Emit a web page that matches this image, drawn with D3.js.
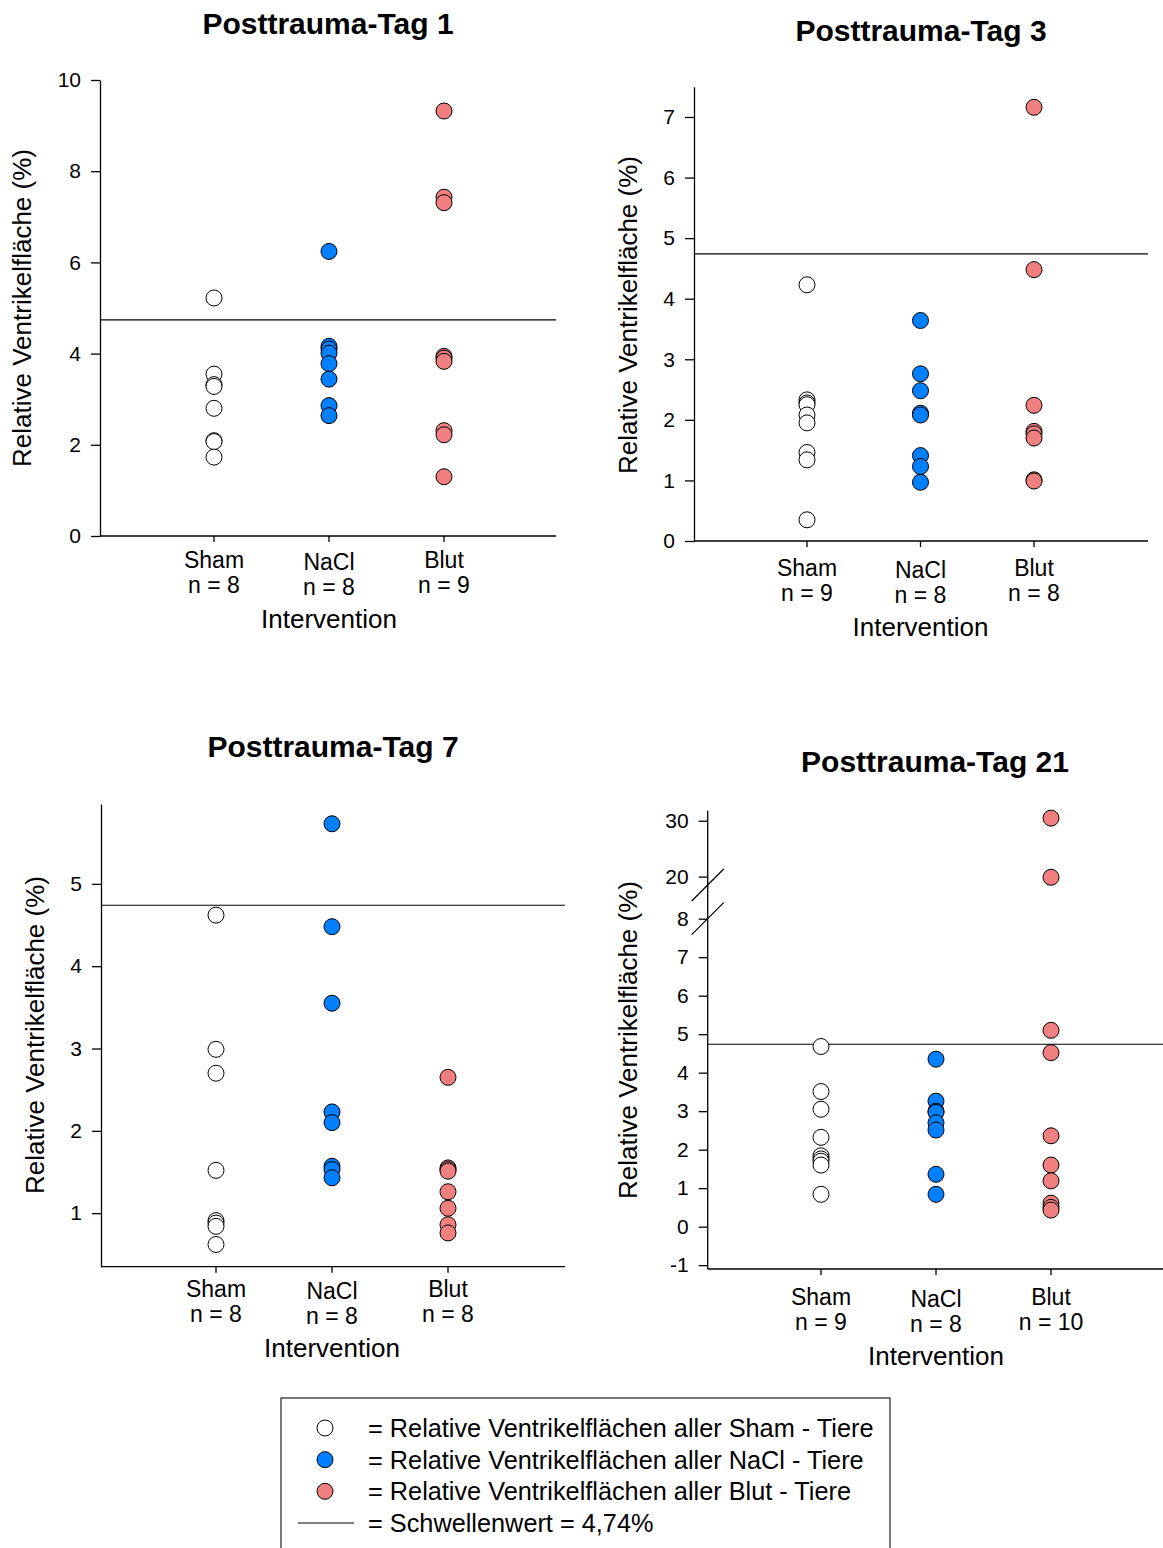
<!DOCTYPE html>
<html>
<head>
<meta charset="utf-8">
<script src="https://cdn.jsdelivr.net/npm/d3@7"></script>
<style>
  body { margin: 0; background: #fff; }
  svg { display: block; font-family: "Liberation Sans", Arial, sans-serif; }
  .tick text { font-size: 21px; fill: #000; }
  .tick line, .domain { stroke: #000; stroke-width: 1.3px; }
</style>
</head>
<body>
<div id="container"></div>
<script>
// values (relative ventricle area in %)
const groups = ["Sham", "NaCl", "Blut"];
const titles = ["Posttrauma-Tag 1", "Posttrauma-Tag 3", "Posttrauma-Tag 7", "Posttrauma-Tag 21"];
const nCounts = [[8, 8, 9], [9, 8, 8], [8, 8, 8], [9, 8, 10]];
const threshold = 4.74;

const day1Sham = [5.22, 3.55, 3.32, 3.28, 2.80, 2.09, 2.07, 1.73];
const day1NaCl = [6.24, 4.16, 4.10, 4.01, 3.78, 3.44, 2.86, 2.64];
const day1Blut = [9.32, 7.43, 7.31, 3.94, 3.90, 3.83, 2.31, 2.22, 1.30];

const day3Sham = [4.23, 2.33, 2.28, 2.25, 2.08, 1.95, 1.46, 1.34, 0.35];
const day3NaCl = [3.64, 2.76, 2.48, 2.11, 2.08, 1.41, 1.23, 0.97];
const day3Blut = [7.16, 4.48, 2.24, 1.81, 1.77, 1.70, 1.01, 0.99];

const day7Sham = [4.62, 2.99, 2.70, 1.52, 0.91, 0.88, 0.84, 0.62];
const day7NaCl = [5.73, 4.48, 3.55, 2.23, 2.10, 1.57, 1.53, 1.43];
const day7Blut = [2.65, 1.55, 1.53, 1.51, 1.26, 1.06, 0.86, 0.76];

const day21Sham = [4.68, 3.51, 3.05, 2.32, 1.84, 1.76, 1.70, 1.60, 0.84];
const day21NaCl = [4.35, 3.26, 3.00, 2.97, 2.70, 2.51, 1.36, 0.84];
const day21Blut = [30.47, 19.88, 5.10, 4.52, 2.36, 1.60, 1.19, 0.61, 0.50, 0.43];

const yTicks1 = [0, 2, 4, 6, 8, 10];
const yTicks3 = [0, 1, 2, 3, 4, 5, 6, 7];
const yTicks7 = [1, 2, 3, 4, 5];
const yTicks21Low = [-1, 0, 1, 2, 3, 4, 5, 6, 7, 8];
const yTicks21High = [20, 30];

const legendTexts = [
  "= Relative Ventrikelflächen aller Sham - Tiere",
  "= Relative Ventrikelflächen aller NaCl - Tiere",
  "= Relative Ventrikelflächen aller Blut - Tiere",
  "= Schwellenwert = 4,74%"
];

const colors = { Sham: "#ffffff", NaCl: "#0080ff", Blut: "#f08080" };

// panel layout
const panels = [
  { data: [day1Sham, day1NaCl, day1Blut], ax: 100, right: 556, cats: [214, 444],
    domain: [0, 10], range: [536, 80], ticks: yTicks1,
    title: [328, 23], ylab: [22, 308], lab: [24, 49, 83] },
  { data: [day3Sham, day3NaCl, day3Blut], ax: 694, right: 1148, cats: [807, 1034],
    domain: [0, 7.5], range: [541, 86.7], ticks: yTicks3,
    title: [921, 30], ylab: [628, 315], lab: [27, 52, 86] },
  { data: [day7Sham, day7NaCl, day7Blut], ax: 101, right: 565, cats: [216, 448],
    domain: [0.35, 5.97], range: [1266.7, 804], ticks: yTicks7,
    title: [333, 746], ylab: [35, 1035], lab: [22, 47, 81] },
  { data: [day21Sham, day21NaCl, day21Blut], ax: 707.7, right: 1163, cats: [821, 1051],
    domain: [-1.1, 8], range: [1269, 918.7], ticks: yTicks21Low,
    upper: { domain: [18.5, 31.8], range: [885, 810.7], ticks: yTicks21High },
    title: [935, 761], ylab: [628, 1040], lab: [28, 53, 87] }
];

const width = 1163, height = 1548;

const svg = d3.select("#container")
  .append("svg")
  .attr("width", width)
  .attr("height", height);

panels.forEach((p, pi) => {
  const g = svg.append("g");

  const x = d3.scalePoint().domain(groups).range(p.cats);
  const yLow = d3.scaleLinear().domain(p.domain).range(p.range);
  let yUp = null;
  if (p.upper) yUp = d3.scaleLinear().domain(p.upper.domain).range(p.upper.range);
  const y = (v) => (yUp && v > p.domain[1]) ? yUp(v) : yLow(v);
  const axisBottom = p.range[0];

  // threshold line
  g.append("line")
    .attr("x1", p.ax).attr("x2", p.right)
    .attr("y1", y(threshold)).attr("y2", y(threshold))
    .attr("stroke", "#000").attr("stroke-width", 1.1);

  // y axis
  const yAxis = d3.axisLeft(yLow).tickValues(p.ticks).tickSize(9).tickPadding(10)
    .tickSizeOuter(0).tickFormat(d => String(d));
  const ga = g.append("g").attr("transform", "translate(" + p.ax + ",0)").call(yAxis);
  if (yUp) {
    ga.select(".domain").remove();
    const gu = g.append("g").attr("transform", "translate(" + p.ax + ",0)")
      .call(d3.axisLeft(yUp).tickValues(p.upper.ticks).tickSize(9).tickPadding(10)
        .tickSizeOuter(0).tickFormat(d => String(d)));
    gu.select(".domain").remove();
    g.append("line")
      .attr("x1", p.ax).attr("x2", p.ax)
      .attr("y1", p.upper.range[1]).attr("y2", axisBottom)
      .attr("stroke", "#000").attr("stroke-width", 1.3);
    // break marks
    [p.upper.range[0], p.range[1]].forEach(by => {
      g.append("line")
        .attr("x1", p.ax - 16).attr("y1", by + 16)
        .attr("x2", p.ax + 16).attr("y2", by - 16)
        .attr("stroke", "#000").attr("stroke-width", 1.2);
    });
  }

  // x axis
  g.append("line")
    .attr("x1", p.ax).attr("x2", p.right)
    .attr("y1", axisBottom).attr("y2", axisBottom)
    .attr("stroke", "#000").attr("stroke-width", 1.3);
  g.selectAll(".xtick")
    .data(groups)
    .enter()
    .append("line")
    .attr("class", "xtick")
    .attr("x1", d => x(d)).attr("x2", d => x(d))
    .attr("y1", axisBottom).attr("y2", axisBottom + 6)
    .attr("stroke", "#000").attr("stroke-width", 1.3);

  // category labels
  groups.forEach((grp, i) => {
    const dy = grp === "NaCl" ? 2 : 0;
    g.append("text")
      .attr("x", x(grp)).attr("y", axisBottom + p.lab[0] + dy)
      .attr("text-anchor", "middle").attr("dominant-baseline", "central")
      .style("font-size", "23px")
      .text(grp);
    g.append("text")
      .attr("x", x(grp)).attr("y", axisBottom + p.lab[1] + dy)
      .attr("text-anchor", "middle").attr("dominant-baseline", "central")
      .style("font-size", "23px")
      .text("n = " + nCounts[pi][i]);
  });

  g.append("text")
    .attr("x", x("NaCl")).attr("y", axisBottom + p.lab[2])
    .attr("text-anchor", "middle").attr("dominant-baseline", "central")
    .style("font-size", "26px")
    .text("Intervention");

  g.append("text")
    .attr("transform", "translate(" + p.ylab[0] + "," + p.ylab[1] + ") rotate(-90)")
    .attr("text-anchor", "middle").attr("dominant-baseline", "central")
    .style("font-size", "26px")
    .text("Relative Ventrikelfläche (%)");

  g.append("text")
    .attr("x", p.title[0]).attr("y", p.title[1])
    .attr("text-anchor", "middle").attr("dominant-baseline", "central")
    .style("font-size", "30px").style("font-weight", "bold")
    .text(titles[pi]);

  // points
  groups.forEach((grp, i) => {
    g.selectAll(".pt" + grp)
      .data(p.data[i])
      .enter()
      .append("circle")
      .attr("cx", x(grp))
      .attr("cy", d => y(d))
      .attr("r", 8)
      .attr("fill", colors[grp])
      .attr("stroke", "#000")
      .attr("stroke-width", 1);
  });
});

// legend
const leg = svg.append("g");
leg.append("rect")
  .attr("x", 281).attr("y", 1398).attr("width", 609).attr("height", 170)
  .attr("fill", "none").attr("stroke", "#333").attr("stroke-width", 1.3);

const legY = d3.scalePoint().domain(d3.range(legendTexts.length)).range([1428, 1523]);

legendTexts.forEach((t, i) => {
  if (i < 3) {
    leg.append("circle")
      .attr("cx", 325).attr("cy", legY(i)).attr("r", 8)
      .attr("fill", colors[groups[i]]).attr("stroke", "#000").attr("stroke-width", 1);
  } else {
    leg.append("line")
      .attr("x1", 298).attr("x2", 354)
      .attr("y1", legY(i)).attr("y2", legY(i))
      .attr("stroke", "#000").attr("stroke-width", 1.1);
  }
  leg.append("text")
    .attr("x", 368).attr("y", legY(i))
    .attr("dominant-baseline", "central")
    .style("font-size", "25.3px")
    .text(t);
});
</script>
</body>
</html>
